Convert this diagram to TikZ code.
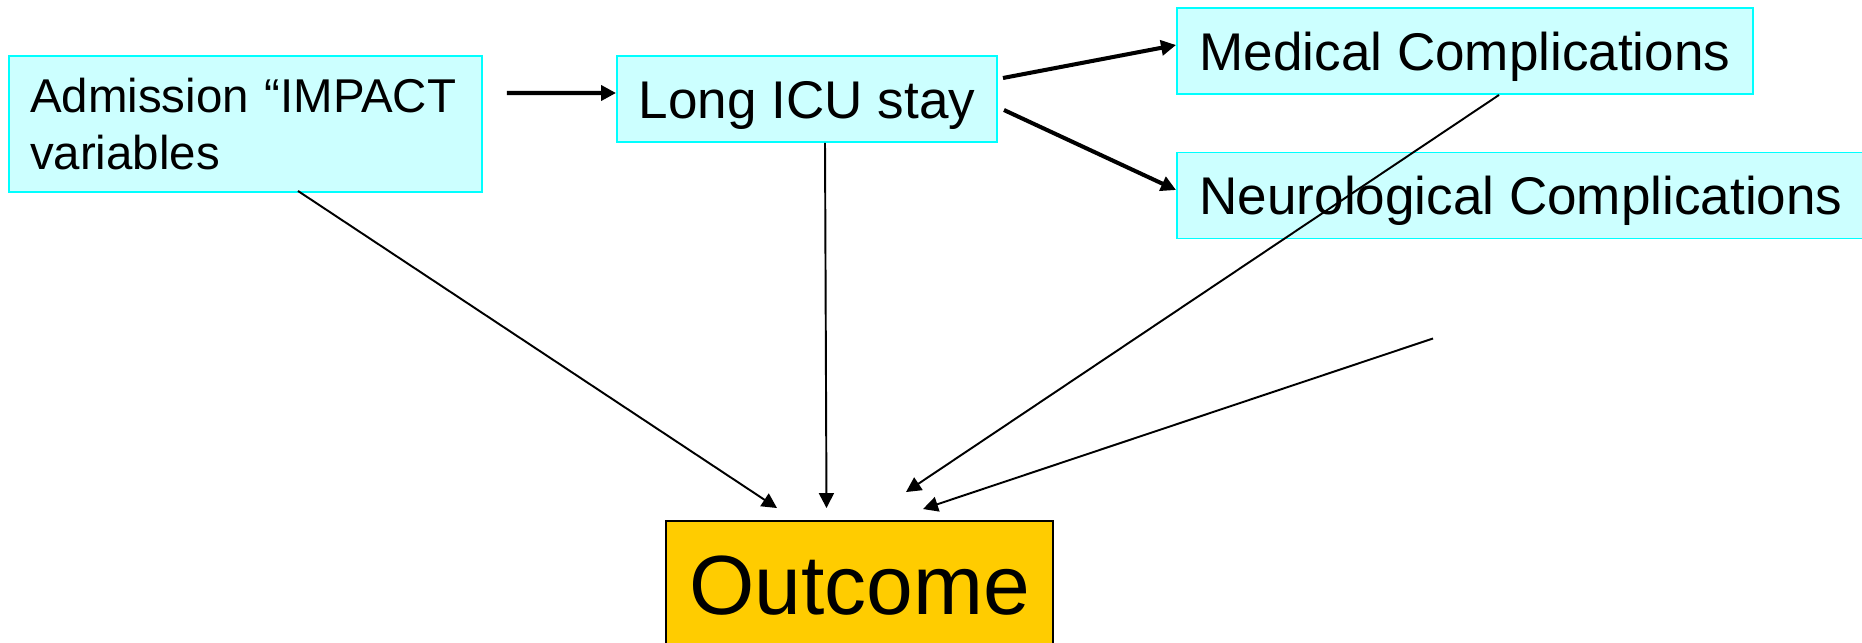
\documentclass[tikz,border=0pt]{standalone}
\usepackage{fontspec}
\setmainfont{Liberation Sans}
\usepackage{xcolor}
\definecolor{boxfill}{HTML}{CCFFFF}
\definecolor{boxline}{HTML}{00FFFF}
\definecolor{outfill}{HTML}{FFCC00}
\usetikzlibrary{arrows.meta}

\begin{document}
\begin{tikzpicture}[>={Triangle[length=0.3cm, width=0.3cm]}, main/.style = {draw=boxline, fill=boxfill, line width=1.1pt, rectangle, font=\fontsize{30.2}{36}\selectfont, minimum height=1.72cm, text height=0.76cm, text depth=0pt}, result/.style = {draw=black, fill=outfill, line width=1.1pt, rectangle, font=\fontsize{47.8}{57}\selectfont, minimum width=7.74cm, minimum height=2.52cm, text height=1.2cm, text depth=0pt}, strong/.style = {->, line width=2.3pt}, weak/.style = {->, line width=1.1pt}]
        \useasboundingbox (0,0) rectangle (37.24,-12.84);
        \node[main, text width=8.62cm, align=left, inner xsep=0.42cm, minimum height=2.72cm, font=\fontsize{27}{33}\selectfont, text height=0.68cm, text depth=1.16cm] (1) at (4.91,-2.48) {Admission “IMPACT\\variables};
        \node[main, minimum width=7.6cm] (2) [right of=1, node distance=11.23cm, yshift=0.5cm] {Long ICU stay};
        \node[main, minimum width=11.52cm] (3) [right of=2, node distance=13.16cm, yshift=0.96cm] {Medical Complications};
        \node[main, minimum width=13.76cm] (4) [below of=3, node distance=2.89cm, xshift=1.12cm] {Neurological Complications};
        \node[result] (5) [below of=2, node distance=9.70cm, xshift=1.05cm] {Outcome};
        \draw[strong] ([xshift=0.48cm, yshift=0.62cm]1.east) -- ([yshift=0.12cm]2.west);
        \draw[strong] ([xshift=0.1cm, yshift=0.42cm]2.east) -- ([yshift=0.12cm]3.west);
        \draw[strong] ([xshift=0.12cm, yshift=-0.22cm]2.east) -- ([yshift=0.11cm]4.west);
        \draw[weak] ([xshift=1.05cm, yshift=0.04cm]1.south) -- ([xshift=-1.65cm, yshift=0.24cm]5.north);
        \draw[weak] ([xshift=0.36cm]2.south) -- ([xshift=-0.66cm, yshift=0.24cm]5.north);
        \draw[weak] ([xshift=0.68cm]3.south) -- ([xshift=0.93cm, yshift=0.56cm]5.north);
        \draw[weak] ([xshift=-1.76cm, yshift=-1.98cm]4.south) -- ([xshift=1.27cm, yshift=0.22cm]5.north);
    \end{tikzpicture}
\end{document}
